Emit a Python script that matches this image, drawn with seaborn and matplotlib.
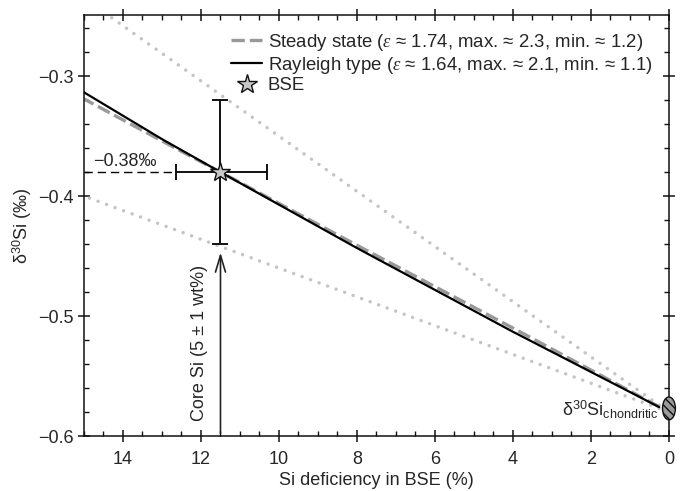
import matplotlib
matplotlib.use("Agg")
import matplotlib.pyplot as plt
from matplotlib.patches import Ellipse
from matplotlib.ticker import MultipleLocator, FuncFormatter
import seaborn as sns
import pandas as pd

# Model curves: delta30Si of the bulk silicate Earth vs. Si deficiency (%)
deficiency = [15, 13, 11.5, 8, 4, 0.25]
steady_state = [-0.319, -0.354, -0.380, -0.441, -0.510, -0.5757]
rayleigh = [-0.3135, -0.3525, -0.380, -0.4433, -0.5131, -0.5759]

# Bounds from the extreme fractionation factors
bound_x = [15, 0.25]
bound_max = [-0.235, -0.5743]
bound_min = [-0.400, -0.577]

# BSE estimate with uncertainties
bse_x = 11.5
bse_y = -0.38
bse_xerr_low, bse_xerr_high = 1.2, 1.15
bse_yerr = 0.06

chondritic_y = -0.577

FS = 13

sns.set_theme(style="ticks")
plt.rcParams["font.family"] = ["Liberation Sans", "DejaVu Sans"]
plt.rcParams["mathtext.fontset"] = "custom"
plt.rcParams["mathtext.rm"] = "Liberation Sans"
plt.rcParams["mathtext.it"] = "Liberation Serif:italic"
plt.rcParams["mathtext.bf"] = "Liberation Sans:bold"
plt.rcParams["axes.linewidth"] = 1.1

fig = plt.figure(figsize=(6.84, 4.91), dpi=100)
ax = fig.add_axes([0.1228, 0.112, 0.978 - 0.1228, 0.9695 - 0.112])

df = pd.DataFrame({"x": deficiency, "ss": steady_state, "ray": rayleigh})
dfb = pd.DataFrame({"x": bound_x, "hi": bound_max, "lo": bound_min})

dot_kw = dict(color="#c4c4c4", lw=2.5, dashes=(0.01, 2.6),
              solid_capstyle="round", dash_capstyle="round", zorder=1)
sns.lineplot(data=dfb, x="x", y="hi", ax=ax, **dot_kw)
sns.lineplot(data=dfb, x="x", y="lo", ax=ax, **dot_kw)

sns.lineplot(data=df, x="x", y="ss", ax=ax, color="#999999", lw=2.4,
             dashes=(4.0, 1.5), zorder=2,
             label=r"Steady state ($\varepsilon$ ≈ 1.74, max. ≈ 2.3, min. ≈ 1.2)")
sns.lineplot(data=df, x="x", y="ray", ax=ax, color="black", lw=1.6, zorder=3,
             label=r"Rayleigh type ($\varepsilon$ ≈ 1.64, max. ≈ 2.1, min. ≈ 1.1)")

# Reference level of the BSE value
ax.plot([15, bse_x + bse_xerr_high], [bse_y, bse_y], color="black", lw=1.0,
        dashes=(6, 3.5), zorder=3)
ax.text(14.77, -0.3715, "−0.38‰", fontsize=FS, ha="left", va="center")

ax.errorbar(bse_x, bse_y, xerr=[[bse_xerr_low], [bse_xerr_high]], yerr=bse_yerr,
            fmt="none", ecolor="#111111", elinewidth=1.4, capsize=5.5,
            capthick=1.4, zorder=4)
ax.plot([bse_x], [bse_y], linestyle="none", marker="*", markersize=15,
        markerfacecolor="#c8c8c8", markeredgecolor="#111111",
        markeredgewidth=1.0, zorder=5, label="BSE")

# Core Si arrow
ax.annotate("", xy=(bse_x, -0.447), xytext=(bse_x, -0.598),
            arrowprops=dict(arrowstyle="->,head_length=1.0,head_width=0.3",
                            color="#222222", lw=1.2, shrinkA=0, shrinkB=0))
ax.text(12.03, -0.5225, "Core Si (5 ± 1 wt%)", rotation=90, fontsize=FS,
        ha="center", va="center")

# Chondritic starting composition
ell = Ellipse((0, chondritic_y), width=0.33, height=0.019, facecolor="#9a9a9a",
              edgecolor="#111111", lw=1.0, hatch="\\\\\\\\", clip_on=False,
              zorder=6)
ax.add_patch(ell)
ax.text(0.27, chondritic_y - 0.0015, r"δ$^{30}$Si$_{\mathrm{chondritic}}$",
        fontsize=FS, ha="right", va="center")

ax.set_xlim(15, 0)
ax.set_ylim(-0.6, -0.249)
ax.xaxis.set_major_locator(MultipleLocator(2))
ax.xaxis.set_minor_locator(MultipleLocator(0.5))
ax.yaxis.set_major_locator(MultipleLocator(0.1))
ax.yaxis.set_minor_locator(MultipleLocator(0.02))
ax.yaxis.set_major_formatter(FuncFormatter(lambda v, p: f"{v:.1f}".replace("-", "−")))
ax.xaxis.set_major_formatter(FuncFormatter(lambda v, p: f"{v:.0f}"))

ax.tick_params(which="major", direction="inout", length=9, width=1.1,
               top=True, right=True, labelsize=FS, pad=3, color="#111111")
ax.tick_params(axis="x", which="major", pad=6)
ax.tick_params(which="minor", direction="in", length=3.5, width=1.0,
               top=True, right=True, color="#111111")
for s in ax.spines.values():
    s.set_color("#111111")

ax.set_xlabel("Si deficiency in BSE (%)", fontsize=FS, labelpad=3)
ax.set_ylabel("δ$^{30}$Si (‰)", fontsize=FS, labelpad=3)

leg = ax.legend(loc="upper right", frameon=False, fontsize=13.4,
                handlelength=1.7, handletextpad=0.28, labelspacing=0.1,
                borderaxespad=0.5)

fig.savefig("out.png", dpi=100)
